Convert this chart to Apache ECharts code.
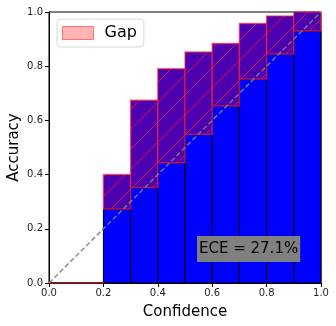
<!DOCTYPE html>
<html>
<head>
<meta charset="utf-8">
<script src="https://cdn.jsdelivr.net/npm/echarts@6/dist/echarts.min.js"></script>
<style>
  html, body { margin: 0; padding: 0; background: #ffffff; }
  #view { width: 336px; height: 326px; }
</style>
</head>
<body>
<div id="view"></div>
<script>
// bin lower edges, width 0.1
const binStarts = [0.0, 0.1, 0.2, 0.3, 0.4, 0.5, 0.6, 0.7, 0.8, 0.9];
const binWidth = 0.1;
// accuracy per bin (blue bars)
const accuracy = [0, 0, 0.273, 0.352, 0.444, 0.549, 0.653, 0.753, 0.845, 0.93];
// mean confidence per bin (top of gap)
const confidence = [0, 0, 0.40, 0.674, 0.791, 0.852, 0.884, 0.958, 0.985, 1.0];
const eceText = "ECE = 27.1%";

// hatch pattern for the gap bars
function makeHatch() {
  let c = document.createElement("canvas");
  c.width = 20;
  c.height = 20;
  let ctx = c.getContext("2d");
  ctx.strokeStyle = "rgba(230,20,70,0.85)";
  ctx.lineWidth = 1;
  ctx.beginPath();
  ctx.moveTo(0, 20);
  ctx.lineTo(20, 0);
  ctx.moveTo(-10, 10);
  ctx.lineTo(10, -10);
  ctx.moveTo(10, 30);
  ctx.lineTo(30, 10);
  ctx.stroke();
  return c;
}
const hatch = makeHatch();

let rows = binStarts.map((b, i) => [b, accuracy[i], confidence[i]]);

let myChart = echarts.init(document.getElementById("view"));
let font = "DejaVu Sans";

let option = {
  animation: false,
  backgroundColor: "#ffffff",
  textStyle: { fontFamily: font },
  grid: {
    left: 49,
    right: 15,
    top: 12,
    bottom: 43,
    containLabel: false,
    outerBoundsMode: "none",
    show: true,
    borderColor: "#000",
    borderWidth: 1,
    backgroundColor: "transparent",
  },
  legend: {
    left: 57,
    top: 19,
    orient: "vertical",
    padding: [6, 7, 6, 5],
    itemWidth: 31,
    itemHeight: 13,
    itemGap: 4,
    borderColor: "#d8d8d8",
    borderWidth: 1,
    borderRadius: 4,
    backgroundColor: "rgba(255,255,255,0.8)",
    textStyle: { fontSize: 16, color: "#000", fontFamily: font, padding: [0, 0, 0, 6] },
    data: [
      {
        name: "Gap",
        icon: "rect",
        itemStyle: { color: "#ffb3b3", borderColor: "#ff7070", borderWidth: 1 },
      },
    ],
  },
  xAxis: {
    type: "value",
    min: 0,
    max: 1,
    interval: 0.2,
    name: "Confidence",
    nameLocation: "middle",
    nameGap: 22,
    nameMoveOverlap: false,
    nameTextStyle: { fontSize: 15, color: "#000", fontFamily: font },
    axisLine: { show: true, onZero: false, lineStyle: { color: "#000" } },
    axisTick: { show: true, length: 4, lineStyle: { color: "#000" } },
    axisLabel: {
      fontSize: 10,
      color: "#222",
      margin: 5,
      formatter: (v) => v.toFixed(1),
    },
    splitLine: { show: false },
  },
  yAxis: {
    type: "value",
    min: 0,
    max: 1,
    interval: 0.2,
    name: "Accuracy",
    nameLocation: "middle",
    nameGap: 27,
    nameMoveOverlap: false,
    nameTextStyle: { fontSize: 15, color: "#000", fontFamily: font },
    axisLine: { show: true, lineStyle: { color: "#000" } },
    axisTick: { show: true, length: 4, lineStyle: { color: "#000" } },
    axisLabel: {
      fontSize: 10,
      color: "#222",
      margin: 6,
      formatter: (v) => v.toFixed(1),
    },
    splitLine: { show: false },
  },
  series: [
    {
      name: "Accuracy",
      type: "custom",
      data: rows,
      z: 2,
      renderItem: function (params, api) {
        let x0 = api.value(0);
        let acc = api.value(1);
        let p0 = api.coord([x0, acc]);
        let p1 = api.coord([x0 + binWidth, 0]);
        return {
          type: "rect",
          shape: { x: p0[0], y: p0[1], width: p1[0] - p0[0], height: p1[1] - p0[1] },
          style: { fill: "#0000ff", stroke: "#000", lineWidth: 1 },
        };
      },
    },
    {
      name: "Gap",
      type: "custom",
      data: rows,
      z: 3,
      renderItem: function (params, api) {
        let x0 = api.value(0);
        let acc = api.value(1);
        let conf = api.value(2);
        let p0 = api.coord([x0, conf]);
        let p1 = api.coord([x0 + binWidth, acc]);
        let shape = { x: p0[0], y: p0[1], width: p1[0] - p0[0], height: p1[1] - p0[1] };
        return {
          type: "group",
          children: [
            { type: "rect", shape: shape, style: { fill: "#4d00b0" } },
            { type: "rect", shape: shape, style: { fill: { image: hatch, repeat: "repeat" } } },
            {
              type: "rect",
              shape: shape,
              style: { fill: "none", stroke: "rgba(255,30,50,0.6)", lineWidth: 1.5 },
            },
          ],
        };
      },
    },
    {
      name: "Perfect",
      type: "line",
      data: [[0, 0], [1, 1]],
      z: 5,
      symbol: "none",
      silent: true,
      lineStyle: { color: "rgba(128,128,128,0.9)", width: 1.5, type: [5, 2.5] },
    },
  ],
  graphic: [
    {
      type: "text",
      left: 197,
      top: 236,
      z: 10,
      style: {
        text: eceText,
        fontSize: 15,
        fontFamily: font,
        fill: "#000",
        backgroundColor: "#808080",
        padding: [6, 2, 5, 2],
      },
    },
  ],
};
myChart.setOption(option);
</script>
</body>
</html>
